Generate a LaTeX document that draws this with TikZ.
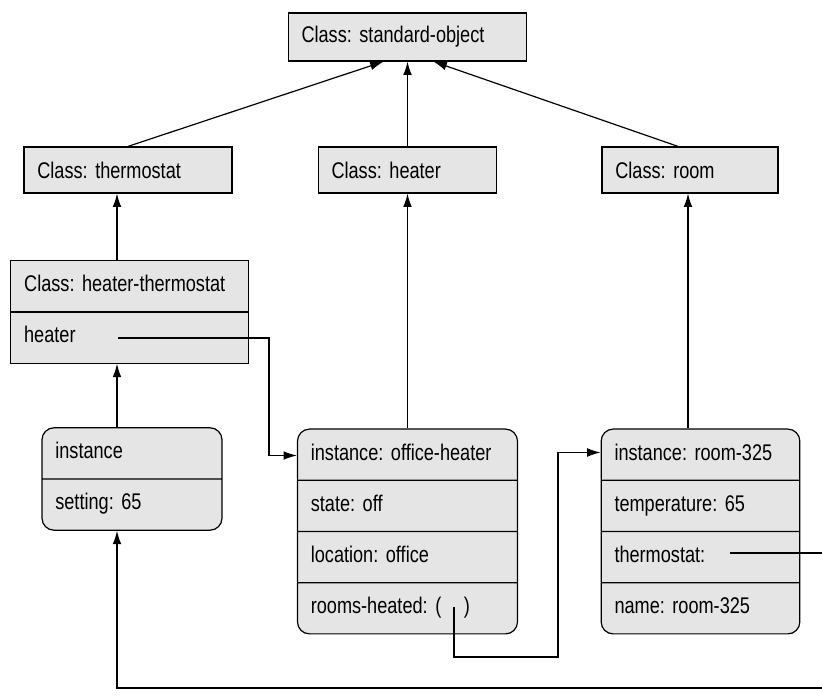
\documentclass[tikz,border=0pt]{standalone}
\usepackage{fontspec}
\setmainfont{Liberation Sans}[FakeStretch=0.8]
\usepackage{xcolor}
\definecolor{gr}{gray}{0.9}
\usetikzlibrary{shapes.multipart, arrows.meta, calc}
\frenchspacing

\begin{document}
\begin{tikzpicture}[x=0.75pt, y=-0.75pt, line width=0.9pt, >={Latex[length=10pt,width=6.5pt]},
  font=\fontsize{17}{20}\selectfont,
  cls/.style={draw, fill=gr, inner xsep=10pt, inner ysep=0pt, minimum height=36pt, text width=#1},
  slots/.style={rectangle split, rectangle split parts=#1, draw, fill=gr, inner xsep=10pt, inner ysep=8.75pt},
  inst/.style={slots=#1, rounded corners=9pt}]
\useasboundingbox (0,0) rectangle (822,698);
% classes
\node[cls=159pt] (std) at (407.5,37) {Class: standard-object};
\node[cls=136pt, minimum height=34.5pt] (th) at (128,170) {Class: thermostat};
\node[cls=114pt, minimum height=34.5pt] (he) at (407.5,170) {Class: heater};
\node[cls=112pt, minimum height=34.5pt] (ro) at (690,170) {Class: room};
\node[slots=2, text width=158pt] (ht) at (129.5,312) {\strut Class: heater-thermostat\nodepart{two}\strut heater};
% instances
\node[inst=2, text width=115pt] (ins) at (132,479) {\strut instance \nodepart{two}\strut setting: 65};
\node[inst=4, text width=145pt] (oh) at (407.5,531.5) {\strut instance: office-heater
  \nodepart{two}\strut state: off
  \nodepart{three}\strut location: office
  \nodepart{four}\strut rooms-heated: ( \ \ )};
\node[inst=4, text width=129pt] (rm) at (700.5,531.5) {\strut instance: room-325
  \nodepart{two}\strut temperature: 65
  \nodepart{three}\strut thermostat:
  \nodepart{four}\strut name: room-325};
% is-a links
\coordinate (spine) at (117,0);
\coordinate (roomx) at (688,0);
\draw[->] (th.north) -- ($(std.south)+(-24,0)$);
\draw[->] (he.north) -- (std.south);
\draw[->] ($(ro.north)+(-12,0)$) -- ($(std.south)+(26,0)$);
\draw[->] (ht.north -| spine) -- (th.south -| spine);
\draw[->] (ins.north -| spine) -- (ht.south -| spine);
\draw[->] (oh.north) -- (he.south);
\draw[->] (rm.north -| roomx) -- (ro.south -| roomx);
% slot values
\coordinate (hs) at (118,338);
\coordinate (rh) at (454,607);
\coordinate (ts) at (730,553);
\draw[->] (hs) -- ++(151,0) |- ($(oh.north west)+(0,27)$);
\draw[->] (rh) -- ++(0,50) -- ++(104,0) |- ($(rm.north west)+(0,24)$);
\draw[->] (ts) -- ++(95,0) -- ++(0,135) -| (ins.south -| spine);
\end{tikzpicture}
\end{document}
